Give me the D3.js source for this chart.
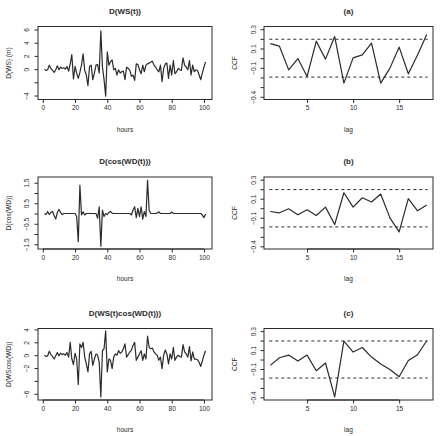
<!DOCTYPE html>
<html>
<head>
<meta charset="utf-8">
<script src="https://cdn.jsdelivr.net/npm/d3@7"></script>
<style>
  html, body { margin: 0; padding: 0; background: #fff; }
  svg { display: block; font-family: "Liberation Sans", Arial, Helvetica, sans-serif; }
</style>
</head>
<body>
<div id="chart"></div>
<script>
// ── Data ────────────────────────────────────────────────────────────────────
const dWS = [
  0.0, -0.2, -0.1, 0.6, 0.1, -0.2, -0.5, -0.1, 0.5, -0.1,
  0.3, 0.1, 0.2, 0.0, 0.4, -0.3, 0.8, 2.2, -1.5, 0.4,
  -0.6, -1.4, -0.5, 0.6, 2.3, -0.2, -0.9, -2.5, 0.4, 0.6,
  -1.6, -0.6, 0.6, 0.7, -0.6, 5.8, 0.3, -1.6, -4.1, 2.6,
  0.6, 1.1, 1.4, -0.1, 0.1, -0.9, -0.1, -0.6, -0.4, -0.3,
  -1.6, 0.3, 0.1, -0.2, -1.1, -0.9, -1.7, 0.8, 0.7, -0.1,
  -0.7, 0.6, -0.4, 0.6, 0.8, 0.9, 1.1, 1.2, 0.6, 0.3,
  -0.1, -0.4, 0.6, -1.9, 0.1, 0.8, 0.9, -1.4, 0.6, -0.9,
  1.3, -0.7, -0.4, 0.1, -0.1, -0.2, 1.7, 0.6, 0.3, -0.1,
  1.3, -0.9, 0.6, -0.4, -0.1, -0.2, -0.9, -1.6, -0.6, 0.3,
  1.1
]
const dCosWD = [
  0.0, -0.05, 0.1, -0.05, 0.05, 0.1, -0.1, -0.27, 0.05, 0.2,
  0.05, -0.05, 0.0, 0.0, 0.0, 0.0, 0.0, 0.0, 0.0, 0.0,
  -0.15, -1.37, 1.38, -0.07, 0.08, -0.07, 0.0, 0.0, 0.0, 0.0,
  0.0, 0.0, 0.0, -0.23, 0.33, -1.6, 0.17, -0.15, 0.0, -0.05,
  0.05, 0.1, 0.02, 0.0, 0.0, 0.0, 0.0, 0.0, 0.0, 0.0,
  0.0, 0.0, 0.0, 0.0, -0.07, 0.17, 0.33, -0.2, 0.25, -0.15,
  0.33, -0.27, 0.1, -0.15, 1.63, 0.15, 0.0, 0.0, 0.0, 0.0,
  0.03, 0.08, 0.0, 0.0, 0.0, 0.0, 0.0, 0.0, 0.0, 0.08,
  0.0, 0.0, 0.0, 0.0, 0.0, 0.0, 0.0, 0.0, 0.0, 0.0,
  0.0, 0.0, 0.0, 0.0, 0.0, 0.0, 0.0, 0.0, -0.07, -0.2,
  -0.02
]
const dWSCosWD = [
  0.0, -0.2, -0.1, 0.6, 0.1, -0.2, -0.6, -0.1, 0.4, -0.1,
  0.3, 0.1, 0.2, 0.0, 0.4, -0.3, 2.0, -0.6, -1.45, 0.3,
  -0.6, -4.55, 1.75, 1.2, 2.0, -0.3, -1.35, -2.6, 0.2, 0.6,
  -1.6, -0.6, 0.2, 0.0, -1.1, -6.5, 0.7, 1.0, 3.8, -2.6,
  -0.6, -0.8, -2.1, -0.3, 0.2, 0.0, 0.7, 0.3, 0.5, 1.0,
  1.75, -0.3, 0.1, 0.5, 0.8, 1.5, 2.0, -0.8, -0.3, 0.2,
  0.7, -0.8, 0.2, -0.6, 2.95, 1.2, 1.0, 1.1, 0.5, 0.2,
  0.0, -0.8, -0.3, -2.1, 0.0, 0.8, 0.2, -1.35, 0.2, -0.6,
  1.2, -0.8, -0.3, 0.0, -0.2, -0.3, 1.65, 0.5, 0.2, -0.3,
  1.35, -0.9, 0.5, -0.6, -0.6, -0.7, -1.1, -1.75, -0.9, 0.0,
  0.7
]

const lags = [1, 2, 3, 4, 5, 6, 7, 8, 9, 10, 11, 12, 13, 14, 15, 16, 17, 18]
const ccfA = [0.151, 0.124, -0.121, -0.004, -0.19, 0.176, -0.01, 0.224, -0.258, 0.003,
  0.034, 0.155, -0.258, -0.103, 0.114, -0.162, 0.034, 0.244]
const ccfB = [-0.034, -0.048, -0.006, -0.069, -0.016, -0.076, 0.012, -0.171, 0.163, 0.012,
  0.11, 0.065, 0.149, -0.101, -0.249, 0.1, -0.027, 0.033]
const ccfC = [-0.062, 0.019, 0.047, -0.016, 0.047, -0.118, -0.037, -0.395, 0.195, 0.079,
  0.127, 0.026, -0.048, -0.105, -0.182, -0.01, 0.05, 0.198]
const ccfBound = 0.196

const hourTicks = [0, 20, 40, 60, 80, 100]
const lagTicks = [5, 10, 15]
const ccfTicks = [-0.4, -0.3, -0.2, -0.1, 0, 0.1, 0.2, 0.3]
const ccfLabels = [0.3, 0.1, -0.1, -0.4]

const seriesPanels = [
  { title: 'D(WS(t))', ylab: 'D(WS) (m)', values: dWS, ydom: [-4.6, 6.45],
    ticks: [-4, -2, 0, 2, 4, 6], labels: [-4, 0, 2, 4, 6] },
  { title: 'D(cos(WD(t)))', ylab: 'D(cos(WD))', values: dCosWD, ydom: [-1.73, 1.78],
    ticks: [-1.5, -1, -0.5, 0, 0.5, 1, 1.5], labels: [-1.5, -0.5, 0.5, 1.5] },
  { title: 'D(WS(t)cos(WD(t)))', ylab: 'D(WScos(WD))', values: dWSCosWD, ydom: [-6.97, 4.15],
    ticks: [-6, -4, -2, 0, 2, 4], labels: [-6, -2, 0, 2, 4] },
]
const ccfPanels = [
  { title: '(a)', values: ccfA },
  { title: '(b)', values: ccfB },
  { title: '(c)', values: ccfC },
]

// ── Layout ──────────────────────────────────────────────────────────────────
const WIDTH = 441
const HEIGHT = 436
const ROWS = [
  { top: 26.5, bottom: 99.5 },
  { top: 177, bottom: 249 },
  { top: 328.5, bottom: 400 },
]
const LEFT_X = [38, 212]
const RIGHT_X = [264, 433]
const INK = '#2b2b2b'
const TICK_FONT = '6.6px'

const svg = d3.select('#chart')
  .append('svg')
  .attr('width', WIDTH)
  .attr('height', HEIGHT)
svg.append('rect').attr('width', WIDTH).attr('height', HEIGHT).attr('fill', '#fff')

const fmt = v => String(+v.toFixed(2))

function drawPanel(opts) {
  const { xr, row, xScale, yScale, xTicks, yTicks, yLabels, title, xlab, ylab, ylabX, yTickGap } = opts
  const g = svg.append('g')

  // frame
  g.append('rect')
    .attr('x', xr[0]).attr('y', row.top)
    .attr('width', xr[1] - xr[0]).attr('height', row.bottom - row.top)
    .attr('fill', 'none').attr('stroke', INK).attr('stroke-width', 1)

  // x axis
  const xAxis = g.append('g')
    .attr('transform', `translate(0,${row.bottom})`)
    .call(d3.axisBottom(xScale).tickValues(xTicks).tickSize(3.5).tickPadding(2.5).tickFormat(fmt))
  xAxis.select('.domain').remove()
  xAxis.selectAll('line').attr('stroke', INK)
  xAxis.selectAll('text').attr('fill', INK).style('font-size', TICK_FONT)
  g.append('line')
    .attr('x1', xScale(xTicks[0])).attr('x2', xScale(xTicks[xTicks.length - 1]))
    .attr('y1', row.bottom).attr('y2', row.bottom).attr('stroke', INK)

  // y axis, rotated labels
  const yAxis = g.append('g')
    .attr('transform', `translate(${xr[0]},0)`)
    .call(d3.axisLeft(yScale).tickValues(yTicks).tickSize(3.5)
      .tickFormat(v => yLabels.some(l => Math.abs(l - v) < 1e-9) ? fmt(v).replace('-', '\u2212') : ''))
  yAxis.select('.domain').remove()
  yAxis.selectAll('line').attr('stroke', INK)
  yAxis.selectAll('text')
    .attr('fill', INK).style('font-size', TICK_FONT)
    .attr('transform', 'rotate(-90)')
    .attr('text-anchor', 'middle')
    .attr('x', 0).attr('y', -yTickGap).attr('dy', 0)

  // titles and labels
  g.append('text')
    .attr('x', (xr[0] + xr[1]) / 2).attr('y', row.top - 13)
    .attr('text-anchor', 'middle').attr('fill', INK)
    .style('font-size', '8px').style('font-weight', 'bold')
    .text(title)
  g.append('text')
    .attr('x', (xr[0] + xr[1]) / 2).attr('y', row.bottom + 32)
    .attr('text-anchor', 'middle').attr('fill', INK)
    .style('font-size', '6.6px')
    .text(xlab)
  const cy = (row.top + row.bottom) / 2
  g.append('text')
    .attr('transform', `translate(${ylabX},${cy}) rotate(-90)`)
    .attr('text-anchor', 'middle').attr('fill', INK)
    .style('font-size', '6.6px')
    .text(ylab)
  return g
}

// ── Time series (left column) ──────────────────────────────────────────────
seriesPanels.forEach((p, i) => {
  const row = ROWS[i]
  const hours = d3.range(1, p.values.length + 1)
  const x = d3.scaleLinear().domain([-3, 105]).range(LEFT_X)
  const y = d3.scaleLinear().domain(p.ydom).range([row.bottom, row.top])
  const g = drawPanel({
    xr: LEFT_X, row, xScale: x, yScale: y, xTicks: hourTicks, yTicks: p.ticks, yLabels: p.labels,
    title: p.title, xlab: 'hours', ylab: p.ylab, ylabX: 11, yTickGap: 9.5,
  })
  g.append('path')
    .datum(p.values)
    .attr('fill', 'none').attr('stroke', INK).attr('stroke-width', 1.2)
    .attr('stroke-linejoin', 'round')
    .attr('d', d3.line().x((d, k) => x(hours[k])).y(d => y(d)))
})

// ── CCF (right column) ─────────────────────────────────────────────────────
ccfPanels.forEach((p, i) => {
  const row = ROWS[i]
  const x = d3.scaleLinear().domain([0.32, 18.68]).range(RIGHT_X)
  const y = d3.scaleLinear().domain([-0.428, 0.328]).range([row.bottom, row.top])
  const g = drawPanel({
    xr: RIGHT_X, row, xScale: x, yScale: y, xTicks: lagTicks, yTicks: ccfTicks, yLabels: ccfLabels,
    title: p.title, xlab: 'lag', ylab: 'CCF', ylabX: 237, yTickGap: 8.5,
  })
  // significance bounds
  ;[ccfBound, -ccfBound].forEach(b => {
    g.append('line')
      .attr('x1', x(0.9)).attr('x2', x(18.1))
      .attr('y1', y(b)).attr('y2', y(b))
      .attr('stroke', INK).attr('stroke-width', 1).attr('stroke-dasharray', '3,3')
  })
  g.append('path')
    .datum(p.values)
    .attr('fill', 'none').attr('stroke', INK).attr('stroke-width', 1.2)
    .attr('stroke-linejoin', 'round')
    .attr('d', d3.line().x((d, k) => x(lags[k])).y(d => y(d)))
})
</script>
</body>
</html>
